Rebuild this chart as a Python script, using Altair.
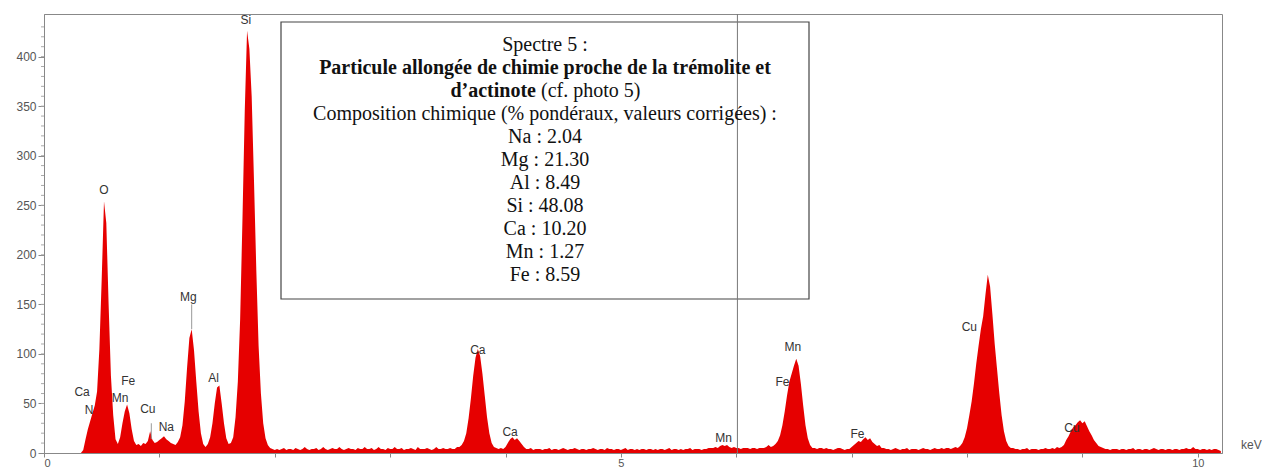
import altair as alt
import pandas as pd
import numpy as np

# ---- spectrum: counts per 0.02 keV channel, starting at 0.30 keV ----
E_START = 0.30
E_STEP = 0.02
counts = [
    # 0.30 - 0.78
    0, 0, 3, 14, 24, 32, 40, 48, 62, 105, 175, 254, 232, 150, 78, 38, 14, 9, 16, 30, 42, 49, 40, 24, 12,
    # 0.80 - 1.28
    8, 9, 7, 10, 9, 12, 22, 13, 10, 11, 13, 15, 17, 14, 12, 10, 9, 8, 11, 16, 28, 52, 86, 116, 125,
    # 1.30 - 1.78
    104, 72, 42, 20, 9, 6, 9, 16, 30, 50, 66, 68, 50, 30, 15, 9, 10, 16, 36, 72, 135, 235, 345, 426, 408,
    # 1.80 - 2.28
    360, 275, 185, 108, 60, 30, 15, 8, 5, 4, 3, 4, 3, 4, 5, 3, 4, 4, 3, 5, 4, 3, 4, 6, 4,
    # 2.30 - 2.78
    3, 4, 4, 5, 3, 4, 6, 4, 3, 4, 5, 4, 4, 6, 4, 3, 4, 5, 4, 4, 3, 5, 4, 4, 6,
    # 2.80 - 3.28
    4, 4, 5, 3, 4, 6, 4, 4, 3, 5, 4, 4, 6, 4, 4, 5, 3, 4, 4, 5, 4, 3, 6, 4, 4,
    # 3.30 - 3.78
    4, 5, 4, 3, 4, 6, 4, 4, 5, 4, 4, 5, 4, 4, 6, 6, 8, 12, 20, 35, 55, 78, 96, 105, 98,
    # 3.80 - 4.28
    80, 58, 36, 20, 10, 6, 5, 4, 5, 4, 6, 10, 14, 16, 13, 15, 12, 9, 6, 4, 4, 5, 3, 4, 4,
    # 4.30 - 4.78
    4, 3, 4, 4, 5, 3, 4, 4, 3, 4, 5, 4, 3, 4, 4, 5, 4, 3, 4, 4, 3, 4, 4, 5, 4,
    # 4.80 - 5.28
    3, 4, 4, 3, 5, 4, 4, 3, 4, 4, 3, 4, 5, 3, 4, 4, 3, 4, 3, 4, 4, 3, 4, 4, 3,
    # 5.30 - 5.78
    4, 3, 4, 4, 3, 4, 5, 3, 4, 4, 3, 4, 3, 4, 4, 5, 3, 4, 4, 4, 3, 4, 4, 5, 5,
    # 5.80 - 6.28
    5, 6, 5, 7, 8, 7, 8, 6, 5, 6, 5, 5, 4, 5, 5, 5, 4, 5, 5, 4, 5, 5, 5, 6, 8,
    # 6.30 - 6.78
    6, 7, 9, 12, 18, 28, 42, 58, 72, 80, 88, 95, 88, 70, 48, 28, 15, 8, 5, 5, 4, 5, 5, 4, 5,
    # 6.80 - 7.28
    4, 4, 3, 4, 5, 5, 4, 3, 4, 4, 6, 8, 10, 12, 11, 14, 16, 13, 15, 11, 9, 7, 8, 5, 5,
    # 7.30 - 7.78
    4, 4, 3, 4, 5, 4, 3, 4, 4, 5, 3, 4, 4, 4, 3, 4, 5, 4, 4, 3, 4, 5, 4, 4, 5,
    # 7.80 - 8.28
    4, 5, 5, 4, 5, 6, 5, 7, 10, 16, 25, 38, 52, 70, 90, 108, 125, 138, 160, 180, 168, 140, 110, 85, 60,
    # 8.30 - 8.78
    38, 22, 12, 7, 5, 5, 4, 4, 3, 4, 4, 5, 3, 4, 4, 4, 3, 4, 4, 5, 4, 4, 5, 4, 6,
    # 8.80 - 9.28
    5, 6, 8, 13, 17, 22, 26, 28, 31, 33, 30, 32, 27, 22, 18, 13, 10, 7, 6, 5, 4, 4, 3, 4, 4,
    # 9.30 - 9.78
    4, 3, 4, 4, 3, 4, 4, 5, 3, 4, 4, 3, 4, 4, 3, 4, 5, 4, 3, 4, 4, 3, 4, 4, 3,
    # 9.80 - 10.20
    4, 4, 3, 4, 4, 5, 4, 4, 6, 4, 4, 3, 4, 4, 3, 4, 3, 4, 4, 3, 2,
]
energies = np.round(E_START + E_STEP * np.arange(len(counts)), 2)

# ---- peak labels ----
peak_names = ["Si", "O", "Mg", "Al", "Ca", "N", "Fe", "Mn", "Cu", "Na",
              "Ca", "Ca", "Mn", "Mn", "Fe", "Fe", "Cu", "Cu"]
peak_kev = [1.75, 0.52, 1.25, 1.47, 0.33, 0.39, 0.73, 0.66, 0.90, 1.06,
            3.76, 4.04, 5.89, 6.49, 6.40, 7.05, 8.02, 8.91]
peak_cnt = [437, 265, 157, 76, 62, 43, 73, 55, 44, 26,
            104, 21, 15, 107, 72, 19, 127, 25]

# thin marker lines (energy, from count, to count)
marker_kev = [1.28, 0.93]
marker_lo = [125, 14]
marker_hi = [150, 30]

cursor_kev = [6.01]
minor_y = list(range(10, 440, 10))
x_ticks = list(range(0, 11))
y_ticks = list(range(0, 401, 50))

box_lines = [
    ("Spectre 5 :", "normal"),
    ("Particule allongée de chimie proche de la trémolite et", "bold"),
    (None, None),
    ("Composition chimique (% pondéraux, valeurs corrigées) :", "normal"),
    ("Na : 2.04", "normal"),
    ("Mg : 21.30", "normal"),
    ("Al : 8.49", "normal"),
    ("Si : 48.08", "normal"),
    ("Ca : 10.20", "normal"),
    ("Mn : 1.27", "normal"),
    ("Fe : 8.59", "normal"),
]

W, H = 1178, 439
spec = pd.DataFrame({"keV": energies, "counts": counts})

xscale = alt.Scale(domain=[0, 10.21], nice=False, zero=False)
yscale = alt.Scale(domain=[0, 443], nice=False)

area = alt.Chart(spec).mark_area(color="#e60000", interpolate="linear", clip=True).encode(
    x=alt.X("keV:Q", scale=xscale, title=None,
            axis=alt.Axis(values=x_ticks, format="d",
                          labelExpr="datum.value % 5 == 0 ? datum.label : ''",
                          tickSize=4, labelFontSize=11, labelColor="#555", labelFont="Liberation Sans",
                          domainColor="#888", tickColor="#888", grid=False, labelPadding=0)),
    y=alt.Y("counts:Q", scale=yscale, title=None,
            axis=alt.Axis(values=y_ticks, tickSize=6, labelFontSize=12, labelColor="#555",
                          labelFont="Liberation Sans", domainColor="#888", tickColor="#888",
                          grid=False, labelPadding=2)),
)

minor = alt.Chart(pd.DataFrame({"v": minor_y})).mark_rule(color="#aaa", strokeWidth=1).encode(
    y=alt.Y("v:Q", scale=yscale), x=alt.value(-3), x2=alt.value(0)
)

markers = alt.Chart(pd.DataFrame({"k": marker_kev, "lo": marker_lo, "hi": marker_hi})).mark_rule(
    color="#999", strokeWidth=1).encode(
    x=alt.X("k:Q", scale=xscale), y=alt.Y("lo:Q", scale=yscale), y2="hi:Q"
)

cursor = alt.Chart(pd.DataFrame({"k": cursor_kev})).mark_rule(color="#777", strokeWidth=1).encode(
    x=alt.X("k:Q", scale=xscale)
)

one = pd.DataFrame({"a": [0]})
box = alt.Chart(one).mark_rect(fillOpacity=0, stroke="#444", strokeWidth=1.2).encode(
    x=alt.value(237), x2=alt.value(765), y=alt.value(8), y2=alt.value(285)
)

FS = 20
texts = []
for i, (t, w) in enumerate(box_lines):
    if t is None:
        continue
    texts.append(
        alt.Chart(one).mark_text(text=t, font="Liberation Serif", fontSize=FS, fontWeight=w,
                                 color="#111", align="center", baseline="middle").encode(
            x=alt.value(501), y=alt.value(31 + 23 * i))
    )
texts.append(alt.Chart(one).mark_text(text="d’actinote", font="Liberation Serif", fontSize=FS,
                                      fontWeight="bold", color="#111", align="right",
                                      baseline="middle").encode(x=alt.value(492), y=alt.value(31 + 23 * 2)))
texts.append(alt.Chart(one).mark_text(text="(cf. photo 5)", font="Liberation Serif", fontSize=FS,
                                      color="#111", align="left",
                                      baseline="middle").encode(x=alt.value(497), y=alt.value(31 + 23 * 2)))

labels_df = pd.DataFrame({"name": peak_names, "keV": peak_kev, "counts": peak_cnt})
labels = alt.Chart(labels_df).mark_text(font="Liberation Sans", fontSize=12, color="#333",
                                        align="center", baseline="middle").encode(
    x=alt.X("keV:Q", scale=xscale), y=alt.Y("counts:Q", scale=yscale), text="name:N"
)

kev = alt.Chart(one).mark_text(text="keV", font="Liberation Sans", fontSize=12, color="#555",
                               align="left", baseline="middle").encode(x=alt.value(1197), y=alt.value(431))

chart = alt.layer(area, minor, markers, box, cursor, *texts, labels, kev).properties(
    width=W, height=H,
    autosize=alt.AutoSizeParams(type="none"),
    padding={"left": 36, "top": 6, "right": 40, "bottom": 17},
).configure_view(stroke="#888", strokeWidth=1)

chart.save("out.html", embed_options={"renderer": "svg", "actions": False})
